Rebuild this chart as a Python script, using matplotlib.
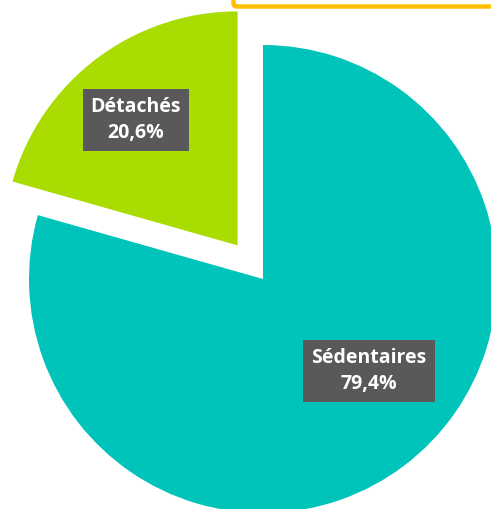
import matplotlib.pyplot as plt
import numpy as np
from matplotlib.patches import FancyBboxPatch

categories = ['Détachés', 'Sédentaires']
shares = [20.6, 79.4]
colors = ['#A9DC00', '#00C4BA']
explode = [0.18, 0.0]
# label placement (angle in degrees, radius as fraction of pie radius)
label_angles = [129, -41]
label_radii = [0.69, 0.60]

W, H = 491, 509
fig = plt.figure(figsize=(W / 100, H / 100), dpi=100)
ax = fig.add_axes([0, 0, 1, 1])

wedges, _ = ax.pie(shares, colors=colors, explode=explode, startangle=90,
                   counterclock=True, radius=1.0,
                   wedgeprops=dict(linewidth=0))

# place pie centre at pixel (263, 279) with radius 234 px
scale = 234.0
cx, cy = 263, H - 279
ax.set_xlim(-cx / scale, (W - cx) / scale)
ax.set_ylim(-cy / scale, (H - cy) / scale)
ax.set_aspect('auto')
ax.axis('off')

for w, cat, val, ang, rad in zip(wedges, categories, shares, label_angles, label_radii):
    x0, y0 = w.center
    x = x0 + rad * np.cos(np.radians(ang))
    y = y0 + rad * np.sin(np.radians(ang))
    ax.text(x, y, f'{cat}\n{val:.1f}%'.replace('.', ','), ha='center', va='center',
            color='white', fontsize=14, fontweight='bold', family='Open Sans',
            linespacing=1.4,
            bbox=dict(boxstyle='square,pad=0.42', facecolor='#595959', edgecolor='none'))

# orange frame partially visible at top right
frame = FancyBboxPatch((233.5 / W, 1 - 6.5 / H), 1.0, 0.1, transform=fig.transFigure,
                       boxstyle='round,pad=0,rounding_size=0.006',
                       facecolor='none', edgecolor='#FFC000', linewidth=3.2,
                       clip_on=False)
fig.patches.append(frame)

fig.savefig('out.png', dpi=100, facecolor='white')
